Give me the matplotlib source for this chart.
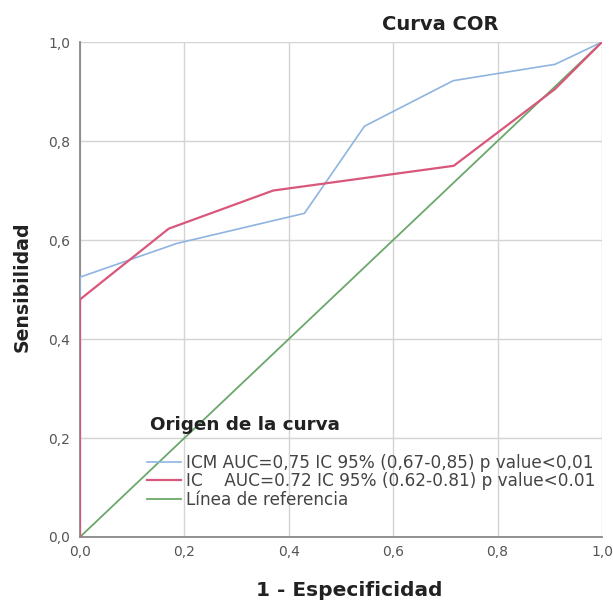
import matplotlib
matplotlib.use("Agg")
import matplotlib.pyplot as plt
from matplotlib.ticker import FuncFormatter

plt.rcParams['font.family'] = ['DejaVu Sans']

icm_x = [0.0, 0.0, 0.185, 0.43, 0.545, 0.715, 0.91, 1.0]
icm_y = [0.0, 0.525, 0.593, 0.654, 0.83, 0.922, 0.955, 1.0]
ic_x = [0.0, 0.0, 0.17, 0.37, 0.716, 0.91, 1.0]
ic_y = [0.0, 0.48, 0.623, 0.70, 0.75, 0.905, 1.0]
ref_x = [0.0, 1.0]
ref_y = [0.0, 1.0]
ticks = [0.0, 0.2, 0.4, 0.6, 0.8, 1.0]
labels = ["ICM AUC=0,75 IC 95% (0,67-0,85) p value<0,01",
          "IC    AUC=0.72 IC 95% (0.62-0.81) p value<0.01",
          "Línea de referencia"]

fig = plt.figure(figsize=(6.13, 6.01), dpi=100)
ax = fig.add_axes([0.1305, 0.1065, 0.8515, 0.8235])

ax.plot(icm_x, icm_y, color='#8fb4e0', lw=1.2, label=labels[0], zorder=3)
ax.plot(ic_x, ic_y, color='#d9577a', lw=1.6, label=labels[1], zorder=4)
ax.plot(ref_x, ref_y, color='#6aa86a', lw=1.3, label=labels[2], zorder=2)

ax.set_xlim(0, 1)
ax.set_ylim(0, 1)
ax.set_xticks(ticks)
ax.set_yticks(ticks)
fmt = FuncFormatter(lambda v, p: f"{v:.1f}".replace('.', ','))
ax.xaxis.set_major_formatter(fmt)
ax.yaxis.set_major_formatter(fmt)
ax.grid(True, color='#d4d4d4', lw=1.0)
ax.set_axisbelow(True)
for s in ['top', 'right']:
    ax.spines[s].set_visible(False)
for s in ['left', 'bottom']:
    ax.spines[s].set_color('#888888')
    ax.spines[s].set_linewidth(1.3)
ax.tick_params(length=0, labelsize=10, labelcolor='#555555')
ax.tick_params(axis='y', pad=7)
ax.tick_params(axis='x', pad=6)

ax.set_xlabel("1 - Especificidad", fontsize=14.5, fontweight='bold', color='#222222')
ax.xaxis.set_label_coords(0.515, -0.088)
ax.set_ylabel("Sensibilidad", fontsize=13.6, fontweight='bold', color='#222222')
ax.yaxis.set_label_coords(-0.093, 0.505)
fig.text(0.718, 0.960, "Curva COR", fontsize=14, fontweight='bold', ha='center',
         va='center', color='#222222')

ax.text(0.134, 0.227, "Origen de la curva", transform=ax.transAxes,
        fontsize=13.2, fontweight='bold', color='#222222', ha='left', va='center')
leg = ax.legend(loc='upper left', bbox_to_anchor=(0.128, 0.168), frameon=False,
                fontsize=12.2, handlelength=2.0, handletextpad=0.3,
                labelspacing=0.02, borderpad=0.0, borderaxespad=0.0)
for t in leg.get_texts():
    t.set_color('#444444')

fig.savefig("out.png", dpi=100, facecolor='white')
